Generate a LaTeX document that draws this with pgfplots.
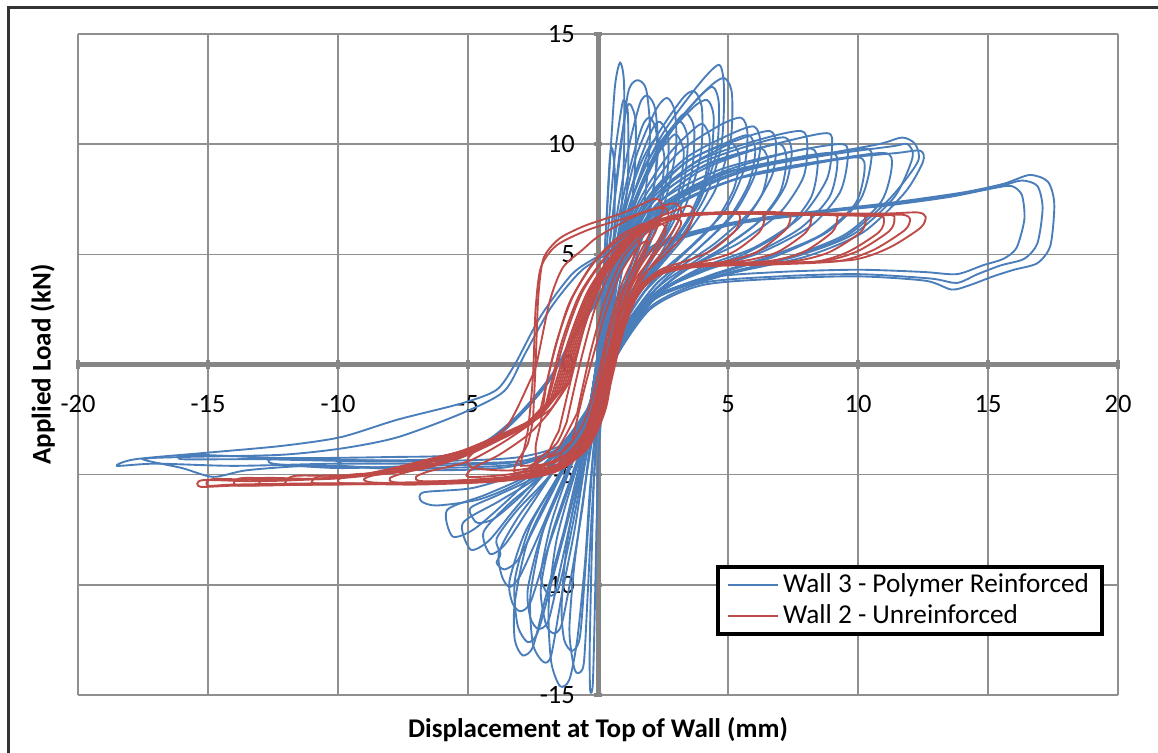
\documentclass[border=0pt]{standalone}
\usepackage{pgfplots}
\pgfplotsset{compat=1.18}
\usepackage{fontspec}
\setmainfont{Carlito}

\definecolor{wblue}{HTML}{4A7EBB}
\definecolor{wred}{HTML}{BE4B48}
\definecolor{axisgray}{HTML}{868686}
\definecolor{gridgray}{HTML}{8F8F8F}

\pgfplotsset{
  bl/.style={wblue, line width=0.75pt, smooth, tension=0.45, forget plot},
  rd/.style={wred, line width=0.75pt, smooth, tension=0.45, forget plot},
}

\begin{document}
\begin{tikzpicture}
\useasboundingbox (0,0) rectangle (463.2pt,301.2pt);
% page frame (left and top edges)
\draw[line width=1.2pt, black!80] (3.3pt,0pt) -- (3.3pt,298pt) -- (463.2pt,298pt);

\begin{axis}[
  at={(31.2pt,23.2pt)}, anchor=south west,
  width=416pt, height=264.4pt, scale only axis,
  xmin=-20, xmax=20, ymin=-15, ymax=15,
  enlargelimits=false,
  axis lines=middle,
  axis line style={-, draw=axisgray, line width=2pt},
  xtick={-20,-15,...,20}, ytick={-15,-10,...,15},
  hide obscured x ticks=false, hide obscured y ticks=false,
  grid=major,
  grid style={draw=gridgray, line width=0.65pt},
  major tick length=3.5pt,
  tick style={draw=axisgray, line width=1.4pt},
  /pgf/number format/assume math mode=true,
  tick label style={font=\fontsize{10.6}{12}\selectfont, text=black},
  xticklabel style={anchor=north, yshift=-7pt},
  yticklabel style={anchor=east, xshift=-4pt},
  xlabel={\bfseries Displacement at Top of Wall (mm)},
  ylabel={\bfseries Applied Load (kN)},
  label style={font=\fontsize{10.8}{12}\selectfont},
  x label style={at={(axis description cs:0.5,-0.021)}, anchor=north},
  y label style={at={(axis description cs:-0.0137,0.5)}, anchor=south, rotate=90},
  legend style={at={(axis description cs:0.6135,0.1967)}, anchor=north west,
    draw=black, line width=1.6pt, fill=white,
    font=\fontsize{10.9}{12}\selectfont,
    inner xsep=3.5pt, inner ysep=1.2pt, row sep=0pt,
    nodes={inner sep=1.6pt}},
  legend cell align=left,
  legend image code/.code={\draw[#1, line width=0.9pt] (0pt,0pt) -- (20pt,0pt);},
]

% ---------------- Wall 3 : positive half-cycles ----------------
\addplot[wblue, line width=0.75pt, smooth, tension=0.45] coordinates {(-0.2,-1.5) (0.1,2) (0.3,6) (0.45,9.3) (0.55,9.8) (0.65,8.5) (0.6,5) (0.4,2) (0.1,-0.5) (-0.2,-2)};
\addlegendentry{Wall 3 - Polymer Reinforced}
\addplot[bl] coordinates {(-0.3,-2) (0,0.5) (0.2,4) (0.45,9) (0.65,12.6) (0.85,13.7) (1.0,12.8) (1.0,9.5) (0.85,6) (0.6,3) (0.3,0.5) (-0.1,-1.8)};
\addplot[bl] coordinates {(-0.3,-2) (0.1,1.5) (0.4,5) (0.8,9) (1.15,12.3) (1.5,12.9) (1.85,12.5) (2.0,10.5) (1.8,7.5) (1.4,5) (0.9,3) (0.4,0.8) (0,-1.5)};
\addplot[bl] coordinates {(-0.2,-1.5) (0.2,2) (0.6,5.5) (1.2,8.8) (1.7,10.8) (2.0,11.2) (2.25,10.5) (2.2,8.5) (1.8,6.3) (1.2,4.3) (0.6,2) (0.1,-0.5)};
\addplot[bl] coordinates {(-0.3,-1.8) (0.2,2) (0.7,5.5) (1.4,9.2) (2.2,11.5) (2.65,12.1) (2.95,11.5) (3.0,9.8) (2.6,7.5) (1.9,5.2) (1.1,3.2) (0.4,0.8) (-0.1,-1.2)};
\addplot[bl] coordinates {(-0.2,-1.5) (0.3,2.5) (0.9,6) (1.8,9) (2.8,10.7) (3.2,11.0) (3.45,10.2) (3.3,8.2) (2.7,6.2) (1.8,4.3) (0.9,2.5) (0.2,0)};
\addplot[bl] coordinates {(-0.3,-2) (0.3,2.5) (1.0,6.3) (2.0,9.8) (3.2,12) (3.7,12.4) (4.0,11.6) (3.95,9.5) (3.4,7.3) (2.5,5.2) (1.5,3.3) (0.5,1) (-0.1,-1.5)};
\addplot[bl] coordinates {(-0.2,-1.5) (0.4,3) (1.2,6.8) (2.3,9.8) (3.6,11.6) (4.2,12.0) (4.45,11.2) (4.3,9) (3.7,7) (2.7,5.2) (1.5,3.2) (0.5,0.8) (-0.1,-1.2)};
\addplot[bl] coordinates {(-0.3,-2) (0.3,2.8) (1.2,7.2) (2.4,10.3) (3.8,12.6) (4.65,13.6) (4.85,12.5) (4.75,10) (4.2,7.8) (3.2,5.8) (2.0,4) (0.8,1.8) (-0.1,-1.5)};
\addplot[bl] coordinates {(-0.2,-1.5) (0.5,3.5) (1.5,7.5) (2.8,10.6) (4.2,12.5) (4.85,13.0) (5.15,12.3) (5.1,10.2) (4.5,7.9) (3.4,5.9) (2.0,3.9) (0.7,1.5) (0,-1)};
\addplot[bl] coordinates {(-0.3,-1.8) (0.4,3) (1.5,7) (3.0,9.5) (4.6,10.8) (5.5,11.2) (5.75,10.5) (5.6,8.8) (4.9,7) (3.6,5.4) (2.1,3.8) (0.8,1.5) (-0.1,-1.3)};
\addplot[bl] coordinates {(-0.2,-1.5) (0.5,3.5) (1.7,7.2) (3.3,9.3) (5.0,10.4) (6.0,10.8) (6.25,10) (6.0,8.5) (5.2,6.8) (3.8,5.2) (2.2,3.6) (0.8,1.3) (0,-1)};
\addplot[bl] coordinates {(-0.3,-1.8) (0.4,3) (1.6,7) (3.4,9.2) (5.4,10.2) (6.6,10.6) (6.85,10) (6.7,8.6) (5.9,7) (4.5,5.5) (2.7,4) (1,1.7) (-0.1,-1.3)};
\addplot[bl] coordinates {(-0.2,-1.5) (0.6,3.8) (1.9,7.3) (3.9,9.1) (6.0,10) (7.2,10.3) (7.45,9.6) (7.2,8.1) (6.3,6.6) (4.8,5.3) (3,4) (1.2,2) (0,-1)};
\addplot[bl] coordinates {(-0.3,-1.8) (0.5,3.3) (1.8,7.1) (3.8,9.2) (6.2,10.2) (7.8,10.6) (8.05,10) (7.9,8.5) (7.0,6.9) (5.4,5.5) (3.4,4.3) (1.4,2.3) (0,-1.2)};
\addplot[bl] coordinates {(-0.2,-1.5) (0.6,3.6) (2.0,7.2) (4.2,9.1) (6.8,10) (8.8,10.5) (9.0,9.9) (8.8,8.4) (7.8,6.7) (6.0,5.3) (3.8,4.3) (1.6,2.6) (0,-1)};
\addplot[bl] coordinates {(-0.3,-1.8) (0.7,3.8) (2.2,7.2) (4.6,8.8) (7.2,9.6) (9.4,10.0) (9.6,9.3) (9.3,7.8) (8.2,6.3) (6.3,5.1) (4,4.2) (1.8,2.8) (0,-1.2)};
\addplot[bl] coordinates {(-0.2,-1.5) (0.7,3.8) (2.3,7) (5,8.7) (8,9.4) (10.3,9.8) (10.5,9.2) (10.1,7.5) (8.8,6) (6.8,4.9) (4.3,4) (1.9,2.8) (0,-1)};
\addplot[bl] coordinates {(-0.3,-1.8) (0.8,4) (2.6,7.2) (5.5,8.8) (8.5,9.5) (10.8,10.0) (11.7,10.3) (12.2,10.0) (12.3,9.2) (11.2,7.5) (9.5,5.8) (7.2,4.8) (4.6,4) (2,2.9) (0,-1.2)};
\addplot[bl] coordinates {(-0.2,-1.5) (0.8,4) (2.7,7) (5.8,8.6) (9,9.3) (11.5,9.6) (12.4,9.7) (12.5,9.2) (11.8,7.8) (10.2,6) (8,4.9) (5,4.1) (2.2,3) (0,-1)};
\addplot[bl] coordinates {(-0.2,-1.5) (0.15,2) (0.5,6) (0.85,9.8) (1.1,11.6) (1.25,11.8) (1.45,11) (1.4,8.5) (1.1,5.5) (0.7,2.8) (0.3,0.5) (-0.1,-1.2)};
\addplot[bl] coordinates {(-0.2,-1.5) (0.3,2.8) (0.9,6.5) (1.6,9) (2.1,10.1) (2.35,10.2) (2.55,9.4) (2.4,7.6) (1.9,5.6) (1.2,3.7) (0.5,1.2) (0,-1)};
\addplot[bl] coordinates {(-0.3,-1.8) (0.4,3) (1.2,6.8) (2.1,9.2) (2.8,10.3) (3.05,10.4) (3.3,9.6) (3.1,7.8) (2.5,5.9) (1.6,4) (0.7,1.8) (0,-1)};
\addplot[bl] coordinates {(-0.2,-1.5) (0.5,3.4) (1.5,7.2) (2.7,9.5) (3.7,10.7) (4.05,10.9) (4.3,10.2) (4.1,8.4) (3.4,6.5) (2.3,4.7) (1.1,2.6) (0,-1)};
\addplot[bl] coordinates {(-0.3,-1.8) (0.6,3.5) (1.9,7) (3.4,8.9) (4.7,9.8) (5.2,10) (5.45,9.3) (5.2,7.9) (4.4,6.3) (3.2,4.9) (1.8,3.3) (0.6,1) (-0.1,-1.3)};
\addplot[bl] coordinates {(-0.2,-1.5) (0.7,3.8) (2.1,7) (3.8,8.7) (5.4,9.5) (6.3,9.8) (6.55,9.1) (6.3,7.7) (5.4,6.2) (4.0,4.9) (2.4,3.6) (0.9,1.6) (0,-1)};
\addplot[bl] coordinates {(-0.3,-1.8) (0.8,4) (2.4,7) (4.5,8.6) (6.6,9.4) (8.2,9.8) (8.45,9.1) (8.2,7.6) (7.2,6.1) (5.6,5.0) (3.6,4.1) (1.5,2.4) (0,-1.2)};
\addplot[bl] coordinates {(-0.2,-1.5) (0.8,4) (2.5,6.8) (5.0,8.3) (7.8,9.0) (10.0,9.4) (10.25,8.8) (9.9,7.3) (8.6,5.9) (6.6,4.9) (4.2,4.0) (1.8,2.7) (0,-1)};
\addplot[bl] coordinates {(-0.2,-1.5) (0.1,1.5) (0.35,5.5) (0.65,9.5) (0.9,11.6) (1.0,12.0) (1.15,11.4) (1.15,8.5) (0.9,5.5) (0.6,2.5) (0.3,0.3) (-0.1,-1.3)};
\addplot[bl] coordinates {(-0.3,-1.8) (0.2,2) (0.6,5.8) (1.1,9.4) (1.6,11.8) (1.9,12.2) (2.2,11.6) (2.3,9.6) (2.0,7) (1.4,4.6) (0.8,2.4) (0.2,0) (-0.2,-1.5)};
\addplot[bl] coordinates {(-0.2,-1.5) (0.3,2.4) (0.8,5.8) (1.5,8.9) (2.1,10.7) (2.4,11.0) (2.7,10.3) (2.65,8.5) (2.2,6.4) (1.5,4.4) (0.8,2.2) (0.1,-0.6)};
\addplot[bl] coordinates {(-0.3,-1.8) (0.4,3) (1.1,6.4) (2.1,9.3) (3.0,11.0) (3.4,11.4) (3.7,10.7) (3.6,8.7) (3.0,6.7) (2.1,4.8) (1.1,2.8) (0.2,0.2) (-0.2,-1.3)};
\addplot[bl] coordinates {(-0.2,-1.5) (0.4,3) (1.3,7) (2.5,10) (3.7,11.9) (4.4,12.6) (4.65,11.8) (4.55,9.6) (3.9,7.4) (2.9,5.5) (1.7,3.6) (0.6,1.2) (-0.1,-1.2)};
\addplot[bl] coordinates {(-0.3,-1.8) (0.5,3.3) (1.7,7) (3.3,9.1) (5.0,10.1) (5.8,10.4) (6.05,9.7) (5.8,8.2) (5.0,6.6) (3.7,5.1) (2.2,3.6) (0.8,1.3) (-0.1,-1.2)};
\addplot[bl] coordinates {(-0.2,-1.5) (0.6,3.7) (1.9,7.1) (3.9,8.9) (5.9,9.7) (7.0,10.0) (7.25,9.3) (7.0,7.8) (6.1,6.4) (4.7,5.2) (3.0,4.0) (1.2,1.9) (0,-1)};
\addplot[bl] coordinates {(-0.3,-1.8) (0.7,3.8) (2.2,7.0) (4.6,8.6) (7.2,9.3) (9.0,9.6) (9.2,9.0) (8.9,7.6) (7.8,6.2) (6.1,5.1) (3.9,4.2) (1.7,2.7) (0,-1.2)};
\addplot[bl] coordinates {(-0.2,-1.5) (0.8,4) (2.6,7) (5.5,8.5) (8.5,9.2) (11.0,9.6) (11.3,9.0) (10.9,7.4) (9.5,5.9) (7.4,4.9) (4.7,4.0) (2.0,2.8) (0,-1)};
\addplot[bl] coordinates {(-0.3,-1.8) (0.8,4.1) (2.7,7.2) (5.7,8.8) (8.8,9.5) (11.3,9.9) (11.9,10.0) (12.1,9.4) (11.4,7.6) (9.8,5.9) (7.6,4.9) (4.8,4.1) (2.1,2.9) (0,-1.2)};
% long positive cycles
\addplot[bl] coordinates {(-0.2,-1.5) (0.6,2.5) (2,5.3) (5,6.4) (8,6.9) (11,7.3) (14,7.8) (15.6,8.2) (16.6,8.6) (17.3,8.3) (17.55,7.3) (17.4,5.4) (16.9,4.6) (16,4.3) (15.2,4.0) (14.3,3.6) (13.6,3.4) (12.6,3.8) (10,4.0) (7,3.9) (4,3.6) (2,2.5) (0.5,0) (-0.1,-1.5)};
\addplot[bl] coordinates {(-0.3,-1.8) (0.5,2.3) (2,5.1) (5,6.3) (8,6.8) (11,7.25) (14,7.75) (15.5,8.1) (16.3,8.35) (16.9,8.1) (17.1,7.1) (16.9,5.5) (16.4,4.8) (15.5,4.5) (14.6,4.1) (13.8,3.7) (12.8,3.9) (10,4.1) (7,4.0) (4,3.7) (2,2.6) (0.5,0.2) (-0.1,-1.3)};
\addplot[bl] coordinates {(-0.2,-1.5) (0.5,2.4) (2,5.2) (5,6.35) (8,6.85) (11,7.2) (13.5,7.6) (15.2,8.0) (15.9,8.1) (16.3,7.7) (16.4,6.6) (16.1,5.3) (15.6,4.8) (14.8,4.5) (13.8,4.1) (12.5,4.2) (10,4.3) (7,4.2) (4,3.9) (2,2.8) (0.5,0.3) (0,-1)};

% ---------------- Wall 3 : negative half-cycles ----------------
\addplot[bl] coordinates {(0.3,0.5) (0,-2) (-0.15,-5) (-0.25,-9) (-0.32,-13) (-0.3,-14.8) (-0.2,-14.5) (-0.12,-11) (-0.05,-7) (0.05,-3.5) (0.3,-0.5)};
\addplot[bl] coordinates {(0.3,0.5) (-0.2,-2.5) (-0.9,-5) (-1.6,-8) (-1.9,-11) (-1.8,-13.5) (-1.46,-14.6) (-1.1,-14.3) (-0.8,-12.5) (-0.5,-9) (-0.3,-5.5) (0,-2) (0.4,0.5)};
\addplot[bl] coordinates {(0.3,0.5) (-0.3,-2.5) (-1.2,-5) (-2.1,-7.5) (-2.6,-10.5) (-2.5,-12.7) (-2.1,-13.5) (-1.8,-13.2) (-1.4,-10.5) (-0.9,-7.5) (-0.5,-4.5) (0,-1.5) (0.4,0.8)};
\addplot[bl] coordinates {(0.3,0.5) (-0.4,-2.5) (-1.5,-5) (-2.6,-7.3) (-3.2,-9.8) (-3.1,-11.8) (-2.7,-12.6) (-2.3,-12.1) (-1.7,-9.5) (-1.1,-6.8) (-0.6,-4.3) (0,-1.5) (0.4,0.8)};
\addplot[bl] coordinates {(0.3,0.5) (-0.4,-2.7) (-1.6,-5.3) (-2.7,-8) (-3.2,-10.8) (-3.2,-12.5) (-2.9,-13.2) (-2.5,-12.8) (-2.0,-10.5) (-1.3,-7.5) (-0.7,-4.5) (0,-1.5) (0.4,0.8)};
\addplot[bl] coordinates {(0.3,0.5) (-0.5,-2.7) (-1.8,-5) (-3.0,-6.8) (-3.8,-8.5) (-3.7,-9.6) (-3.4,-10.1) (-3.0,-9.6) (-2.3,-7.8) (-1.5,-5.6) (-0.7,-3.5) (0,-1.2) (0.4,0.8)};
\addplot[bl] coordinates {(0.3,0.5) (-0.6,-2.8) (-2,-4.9) (-3.4,-6.3) (-4.4,-7.6) (-4.15,-8.6) (-3.6,-8.2) (-2.8,-6.8) (-1.8,-5) (-0.9,-3.3) (0,-1.2) (0.4,0.6)};
\addplot[bl] coordinates {(0.3,0.5) (-0.6,-3) (-2.2,-5) (-3.8,-6.2) (-5.2,-7.2) (-4.9,-8.4) (-4.2,-8.0) (-3.3,-6.7) (-2.1,-5.0) (-1.0,-3.3) (0,-1.2) (0.4,0.6)};
\addplot[bl] coordinates {(0.3,0.5) (-0.7,-3) (-2.5,-4.9) (-4.3,-5.9) (-5.8,-6.6) (-5.6,-7.8) (-4.8,-7.5) (-3.6,-6.3) (-2.3,-4.8) (-1.1,-3.2) (0,-1.2) (0.4,0.6)};
\addplot[bl] coordinates {(0.3,0.5) (-0.8,-3) (-2.8,-4.8) (-4.8,-5.6) (-6.7,-5.8) (-6.8,-6.2) (-6.2,-6.4) (-4.5,-6.1) (-2.8,-5.2) (-1.3,-3.6) (0,-1.2) (0.4,0.6)};
\addplot[bl] coordinates {(0.3,0.5) (-0.3,-2.5) (-1.3,-5.2) (-2.2,-7.8) (-2.7,-10.2) (-2.6,-11.5) (-2.3,-12.0) (-1.9,-11.6) (-1.4,-9) (-0.9,-6.3) (-0.4,-3.8) (0.1,-1) (0.4,0.8)};
\addplot[bl] coordinates {(0.3,0.5) (-0.2,-2.5) (-0.7,-5) (-1.2,-8.2) (-1.4,-11) (-1.3,-12.5) (-1.0,-13.0) (-0.7,-12.4) (-0.5,-9.5) (-0.3,-6) (-0.1,-3) (0.4,0.5)};
\addplot[bl] coordinates {(0.3,0.5) (-0.4,-2.6) (-1.6,-5.2) (-2.8,-7.6) (-3.4,-9.8) (-3.3,-10.8) (-3.0,-11.2) (-2.6,-10.8) (-2.0,-8.6) (-1.3,-6.2) (-0.6,-3.8) (0,-1.3) (0.4,0.8)};
\addplot[bl] coordinates {(0.3,0.5) (-0.3,-2.5) (-1.1,-4.8) (-1.8,-7.2) (-2.2,-9.5) (-2.0,-10.3) (-1.8,-10.5) (-1.5,-10.1) (-1.1,-8) (-0.7,-5.6) (-0.3,-3.2) (0.1,-1) (0.4,0.8)};
\addplot[bl] coordinates {(0.3,0.5) (-0.3,-2.6) (-1.0,-5.0) (-1.8,-7.8) (-2.2,-10.2) (-2.0,-11.8) (-1.7,-12.2) (-1.4,-11.8) (-1.0,-9.4) (-0.6,-6.5) (-0.3,-3.6) (0.1,-1) (0.4,0.7)};
\addplot[bl] coordinates {(0.3,0.5) (-0.1,-2.5) (-0.5,-5.5) (-0.9,-9) (-1.1,-12) (-0.95,-13.6) (-0.8,-14.0) (-0.55,-13.6) (-0.4,-10.5) (-0.25,-7) (-0.05,-3.5) (0.3,0)};
\addplot[bl] coordinates {(0.3,0.5) (-0.5,-2.8) (-1.9,-5.1) (-3.1,-6.6) (-3.9,-7.9) (-3.75,-8.6) (-3.9,-9.0) (-3.6,-9.3) (-3.1,-8.9) (-2.4,-7.3) (-1.5,-5.2) (-0.7,-3.3) (0,-1.2) (0.4,0.7)};
\addplot[bl] coordinates {(0.3,0.5) (-0.7,-3.1) (-2.3,-5.0) (-3.8,-5.9) (-4.9,-6.5) (-4.8,-7.0) (-4.6,-7.2) (-4.0,-7.0) (-3.0,-6.0) (-1.9,-4.6) (-0.9,-3.1) (0,-1.2) (0.4,0.6)};
% long negative cycles
\addplot[bl] coordinates {(0.3,0.5) (-0.5,-3) (-2.5,-4.3) (-6,-4.5) (-10,-4.5) (-14,-4.6) (-17,-4.5) (-18.5,-4.6) (-17.8,-4.3) (-15,-4.0) (-12.2,-3.7) (-9.9,-3.3) (-7.7,-2.5) (-5.2,-1.75) (-3.9,-1.15) (-3.2,0) (-2.2,2.2) (-1.0,4.1) (0,4.9) (1.5,5.8)};
\addplot[bl] coordinates {(0.3,0.5) (-0.6,-3.2) (-3,-4.5) (-7,-4.7) (-11,-4.6) (-13.5,-4.8) (-14.8,-5.1) (-16,-4.7) (-17.5,-4.3) (-16,-4.2) (-12.2,-4.1) (-9.8,-3.8) (-7.7,-3.3) (-5.2,-2.2) (-3.6,-1.2) (-2.8,0.5) (-1.8,2.6) (-0.6,4.3) (0.8,5.3)};
\addplot[bl] coordinates {(0.3,0.5) (-0.5,-3) (-3,-4.2) (-8,-4.4) (-13,-4.3) (-16,-4.3) (-15.5,-4.1) (-12,-4.25) (-8,-4.2) (-5.5,-4.1) (-4.2,-3.4) (-3,-2.2) (-1.8,-0.5) (-0.8,1.5) (0.3,3.5)};
\addplot[bl] coordinates {(0.3,0.5) (-0.6,-3.1) (-3,-4.4) (-7,-4.6) (-10,-4.7) (-12.5,-4.5) (-12.3,-4.25) (-9,-4.35) (-6,-4.3) (-5.0,-4.0) (-3.8,-3.2) (-2.6,-1.8) (-1.5,0) (-0.6,2) (0.4,3.8)};
\addplot[bl] coordinates {(0.3,0.5) (-0.7,-3.3) (-3.2,-4.6) (-6.5,-4.8) (-9.8,-4.6) (-9.6,-4.35) (-7,-4.4) (-5.4,-4.2) (-4.2,-3.5) (-3,-2.3) (-1.9,-0.8) (-1,1.2) (0.2,3.2)};

% ---------------- Wall 2 : full cycles ----------------
\addplot[wred, line width=0.75pt, smooth, tension=0.45] coordinates {(-1.8,-1.5) (-1.1,1.2) (-0.4,3.3) (0.5,4.9) (1.5,6.0) (2.8,6.7) (5,6.9) (8,6.85) (11,6.85) (12.3,6.9) (12.6,6.7) (12.4,6.2) (11.2,5.3) (9.8,4.75) (7,4.6) (4,4.5) (2.4,4.2) (1.5,3.4) (1.0,1.8) (0.6,0) (0.3,-2) (-0.3,-3.6) (-1.4,-4.7) (-3.5,-5.2) (-7,-5.4) (-11,-5.45) (-14,-5.5) (-15.3,-5.55) (-15.2,-5.25) (-13,-5.3) (-10,-5.15) (-8.4,-4.85) (-6.5,-4.3) (-4.5,-3.7) (-2.6,-2.7) (-1.8,-1.5)};
\addlegendentry{Wall 2 - Unreinforced}
\addplot[rd] coordinates {(-1.7,-1.4) (-1.0,1.3) (-0.3,3.4) (0.6,5.0) (1.6,6.1) (2.9,6.75) (5,6.85) (8,6.8) (10.5,6.75) (11.7,6.8) (12.0,6.6) (11.8,6.1) (10.6,5.2) (9.3,4.7) (7,4.55) (4,4.45) (2.3,4.1) (1.4,3.3) (0.9,1.7) (0.5,-0.1) (0.2,-2.1) (-0.4,-3.7) (-1.5,-4.8) (-3.6,-5.25) (-7,-5.4) (-11,-5.4) (-14,-5.45) (-15.0,-5.5) (-14.8,-5.2) (-12.5,-5.25) (-9.8,-5.1) (-8.2,-4.8) (-6.3,-4.25) (-4.4,-3.65) (-2.5,-2.6) (-1.7,-1.4)};
\addplot[rd] coordinates {(-1.9,-1.6) (-1.3,1.1) (-0.6,3.3) (0.4,5.0) (1.5,6.05) (2.9,6.7) (5,6.9) (8,6.85) (11.1,6.8) (11.4,6.6) (11.2,6.05) (10.0,5.15) (8.7,4.7) (6.5,4.6) (4,4.5) (2.5,4.15) (1.6,3.3) (1.0,1.6) (0.6,-0.3) (0.2,-2.2) (-0.4,-3.8) (-1.6,-4.8) (-3.7,-5.25) (-7,-5.4) (-11,-5.45) (-13.7,-5.5) (-14,-5.35) (-13.6,-5.15) (-11,-5.2) (-9,-5.0) (-7.2,-4.6) (-5.2,-3.9) (-3.4,-3.0) (-2.4,-2.4) (-1.9,-1.6)};
\addplot[rd] coordinates {(-1.6,-1.3) (-0.9,1.4) (-0.2,3.5) (0.7,5.1) (1.7,6.1) (3,6.75) (5,6.9) (8,6.8) (10.7,6.75) (11.0,6.55) (10.8,6.0) (9.6,5.1) (8.3,4.65) (6,4.55) (3.5,4.4) (2.2,4.0) (1.3,3.1) (0.8,1.5) (0.4,-0.3) (0.1,-2.2) (-0.6,-3.8) (-1.7,-4.9) (-3.8,-5.3) (-7,-5.45) (-10,-5.4) (-12.6,-5.45) (-13,-5.4) (-12.8,-5.15) (-10.5,-5.2) (-8.6,-5.0) (-7.0,-4.6) (-5.2,-4.0) (-3.5,-3.2) (-2.3,-2.4) (-1.6,-1.3)};
\addplot[rd] coordinates {(-2.0,-1.8) (-1.4,1.0) (-0.7,3.2) (0.3,4.9) (1.4,6.0) (2.8,6.7) (5,6.85) (8,6.8) (10.0,6.8) (10.3,6.6) (10.1,6.0) (8.9,5.1) (7.6,4.7) (5.5,4.6) (3.2,4.45) (2.1,4.0) (1.3,2.9) (0.8,1.2) (0.45,-0.8) (0,-2.6) (-0.7,-4.0) (-1.9,-4.9) (-4,-5.3) (-8,-5.4) (-11.7,-5.45) (-12,-5.3) (-11.6,-5.05) (-9.4,-5.05) (-7.6,-4.8) (-5.8,-4.2) (-4.0,-3.4) (-2.7,-2.6) (-2.0,-1.8)};
\addplot[rd] coordinates {(-1.5,-1.2) (-0.8,1.5) (-0.1,3.6) (0.8,5.2) (1.8,6.2) (3.1,6.8) (5.5,6.9) (8.9,6.8) (9.2,6.6) (9.0,6.0) (7.9,5.1) (6.6,4.7) (4.5,4.55) (2.8,4.3) (1.9,3.8) (1.2,2.8) (0.7,1.2) (0.3,-0.6) (-0.1,-2.4) (-0.8,-3.9) (-1.9,-4.9) (-4,-5.3) (-7.5,-5.4) (-10.7,-5.4) (-11,-5.3) (-10.6,-5.05) (-8.5,-5.0) (-6.8,-4.7) (-5.0,-4.0) (-3.4,-3.2) (-2.2,-2.3) (-1.5,-1.2)};
\addplot[rd] coordinates {(-2.2,-2.0) (-1.7,0.5) (-1.1,2.8) (-0.1,4.7) (1.1,5.9) (2.6,6.65) (5,6.85) (7.9,6.85) (8.2,6.65) (8.0,6.0) (6.9,5.1) (5.6,4.7) (3.8,4.55) (2.4,4.15) (1.5,3.1) (0.9,1.3) (0.5,-0.6) (0.1,-2.5) (-0.6,-3.9) (-1.8,-4.8) (-4,-5.25) (-7,-5.4) (-9.7,-5.4) (-10,-5.25) (-9.5,-5.0) (-7.6,-4.85) (-5.9,-4.35) (-4.2,-3.6) (-2.9,-2.8) (-2.2,-2.0)};
\addplot[rd] coordinates {(-1.4,-1.1) (-0.7,1.6) (0,3.7) (0.9,5.3) (1.9,6.3) (3.2,6.8) (5.5,6.9) (7.1,6.9) (7.4,6.7) (7.2,6.1) (6.1,5.1) (4.8,4.65) (3.2,4.45) (2.1,4.0) (1.3,3.0) (0.7,1.4) (0.3,-0.5) (-0.1,-2.3) (-0.8,-3.9) (-2,-4.9) (-4.2,-5.3) (-7,-5.4) (-8.7,-5.35) (-9,-5.2) (-8.5,-5.0) (-6.8,-4.75) (-5.2,-4.2) (-3.6,-3.3) (-2.3,-2.3) (-1.4,-1.1)};
\addplot[rd] coordinates {(-1.1,-0.8) (-0.5,1.8) (0.2,3.9) (1.1,5.4) (2.2,6.4) (3.5,6.8) (6.1,6.85) (6.4,6.65) (6.2,6.0) (5.2,5.1) (4.0,4.65) (2.7,4.35) (1.7,3.6) (1.0,2.0) (0.6,0.2) (0.2,-1.8) (-0.4,-3.5) (-1.5,-4.6) (-3.5,-5.1) (-6,-5.3) (-7.8,-5.35) (-8,-5.15) (-7.4,-4.9) (-5.8,-4.4) (-4.2,-3.6) (-2.7,-2.7) (-1.8,-2.0) (-1.1,-0.8)};
\addplot[rd] coordinates {(-1.3,-1.0) (-0.6,1.7) (0.1,3.8) (1.0,5.4) (2.0,6.3) (3.3,6.75) (5.2,6.85) (5.46,6.7) (5.3,6.1) (4.4,5.2) (3.4,4.7) (2.4,4.3) (1.5,3.4) (0.9,1.8) (0.5,0) (0.1,-2.0) (-0.6,-3.8) (-1.9,-4.8) (-4,-5.2) (-6.7,-5.3) (-7,-5.1) (-6.5,-4.85) (-5.0,-4.4) (-3.6,-3.5) (-2.3,-2.4) (-1.3,-1.0)};
\addplot[rd] coordinates {(-1.2,-0.9) (-0.5,1.8) (0.2,3.9) (1.0,5.5) (2.0,6.5) (3.0,7.0) (3.5,7.2) (3.7,6.9) (3.4,6.0) (2.6,5.0) (1.7,4.0) (0.9,2.3) (0.4,0.3) (0,-1.8) (-0.6,-3.6) (-1.7,-4.6) (-3.5,-5.0) (-5,-5.1) (-4.8,-4.7) (-3.8,-4.1) (-2.7,-3.2) (-1.9,-2.2) (-1.2,-0.9)};
\addplot[rd] coordinates {(-0.8,-2.2) (-0.3,0.5) (0.3,3.0) (1.0,4.9) (1.9,6.0) (2.9,6.6) (3.2,6.4) (2.7,5.4) (2.0,4.4) (1.3,3.0) (0.8,1.0) (0.4,-1.0) (-0.1,-2.9) (-0.9,-4.3) (-2.2,-4.9) (-2.6,-4.6) (-1.6,-3.9) (-0.8,-2.2)};
\addplot[rd] coordinates {(-1.2,-2.6) (-0.7,0.0) (-0.1,2.6) (0.6,4.5) (1.5,5.8) (2.4,6.4) (2.6,6.0) (2.1,5.0) (1.5,3.8) (1.0,2.2) (0.6,0.2) (0.2,-1.7) (-0.3,-3.4) (-1.2,-4.5) (-2.5,-5.0) (-2.4,-4.4) (-1.6,-3.6) (-1.2,-2.6)};
\addplot[rd] coordinates {(-2.5,-2.5) (-2.4,0) (-2.3,3) (-2.1,4.8) (-1.5,5.7) (-0.5,6.3) (1,6.9) (2.0,7.45) (2.3,7.5) (2.5,7.1) (2.2,6.0) (1.6,4.8) (0.9,3.2) (0.4,1.2) (0,-1) (-0.5,-3) (-1.3,-4.2) (-2.3,-4.7) (-3.2,-4.9) (-3.1,-4.4) (-2.7,-3.6) (-2.5,-2.5)};
\addplot[rd] coordinates {(-4.8,-4.0) (-3.5,-2.8) (-2.6,-0.7) (-2.35,0.1) (-1.85,2.9) (-1.35,4.4) (-0.6,5.2) (0,5.8) (1.2,6.6) (2.0,7.0) (2.6,7.1) (2.7,6.6) (2.3,5.6) (1.6,4.4) (0.9,2.6) (0.4,0.5) (0,-1.6) (-0.6,-3.4) (-1.6,-4.4) (-3.2,-4.8) (-4.8,-4.7) (-5.0,-4.3) (-4.8,-4.0)};
\addplot[rd] coordinates {(-3.0,-4.6) (-2.7,-3) (-2.5,-0.5) (-2.4,2.5) (-2.2,4.4) (-1.6,5.4) (-0.4,6.1) (1.2,6.7) (2.5,7.2) (3.0,7.3) (3.2,6.9) (2.9,6.1) (2.2,5.0) (1.4,3.8) (0.8,2) (0.3,0) (-0.2,-2.2) (-0.9,-3.8) (-2.0,-4.5) (-3.0,-4.6)};
\addplot[rd] coordinates {(-1,-3.5) (-0.5,-1) (0.2,2) (0.8,4) (1.5,5.3) (1.9,5.6) (1.8,5.0) (1.2,3.6) (0.6,1.5) (0.1,-0.8) (-0.4,-2.8) (-1.0,-4.0) (-1.5,-4.3) (-1.3,-3.8) (-1.0,-3.5)};
\addplot[rd] coordinates {(-1.5,-3.0) (-1.0,-0.5) (-0.4,2.2) (0.3,4.2) (1.1,5.5) (1.6,5.9) (1.5,5.2) (0.9,3.6) (0.4,1.6) (0,-0.5) (-0.5,-2.5) (-1.2,-3.8) (-1.9,-4.2) (-1.8,-3.7) (-1.5,-3.0)};
\addplot[rd] coordinates {(-2.0,-1.0) (-1.6,1.0) (-1.0,3.0) (-0.2,4.6) (0.8,5.8) (1.8,6.4) (2.0,6.0) (1.5,4.8) (0.9,3.0) (0.5,1.0) (0.2,-1.2) (-0.3,-3.0) (-1.0,-4.3) (-2.2,-4.7) (-2.4,-3.8) (-2.2,-2.6) (-2.0,-1.0)};
\end{axis}
\end{tikzpicture}
\end{document}
